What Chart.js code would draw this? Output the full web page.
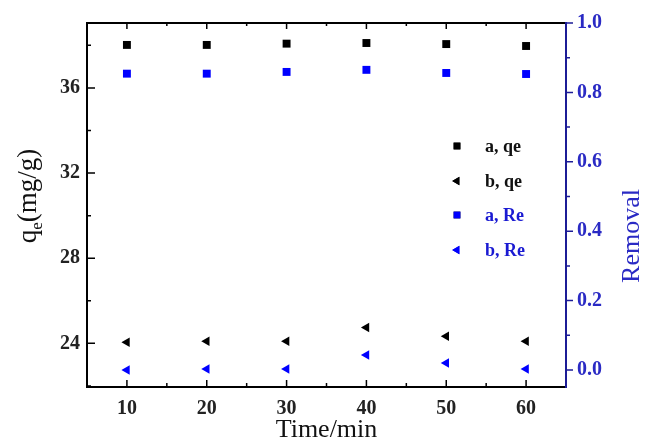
<!DOCTYPE html>
<html lang="en">
<head>
    <meta charset="UTF-8">
    <title>qe and removal vs time</title>
    <style>
        body {
            margin: 0;
            background: #fff;
        }
        #wrap {
            width: 645px;
            height: 441px;
        }
    </style>
    <script src="https://cdn.jsdelivr.net/npm/chart.js"></script>
</head>
<body>
    <div id="wrap"><canvas id="chart" width="645" height="441"></canvas></div>

    <script>
        // data
        const times = [10, 20, 30, 40, 50, 60];
        const aQe = [38.02, 38.02, 38.08, 38.11, 38.06, 37.97];
        const bQe = [24.05, 24.1, 24.1, 24.75, 24.33, 24.1];
        const aRe = [0.854, 0.854, 0.859, 0.865, 0.856, 0.853];
        const bRe = [0.0, 0.003, 0.003, 0.043, 0.02, 0.003];

        const xTicks = [10, 20, 30, 40, 50, 60];
        const xMinor = [15, 25, 35, 45, 55];
        const leftTicks = [24, 28, 32, 36];
        const leftMinor = [22, 26, 30, 34, 38];
        const rightTicks = [0, 0.2, 0.4, 0.6, 0.8, 1.0];
        const rightMinor = [0.1, 0.3, 0.5, 0.7, 0.9];

        const legendNames = ['a, qe', 'b, qe', 'a, Re', 'b, Re'];

        const SERIF = '"Liberation Serif", "Times New Roman", serif';
        const BLUE = '#0000ff';
        const AXIS_BLUE = '#1c1c96';
        const LABEL_BLUE = '#2a2ac4';

        function pts(ys) {
            return times.map((t, i) => ({ x: t, y: ys[i] }));
        }

        const sets = [
            { label: legendNames[0], data: pts(aQe), yAxisID: 'y', pointStyle: 'rect', pointRadius: 5.6, backgroundColor: '#000', borderColor: '#000', pointRotation: 0 },
            { label: legendNames[1], data: pts(bQe), yAxisID: 'y', pointStyle: 'triangle', pointRadius: 5.5, backgroundColor: '#000', borderColor: '#000', pointRotation: -90 },
            { label: legendNames[2], data: pts(aRe), yAxisID: 'y1', pointStyle: 'rect', pointRadius: 5.6, backgroundColor: BLUE, borderColor: BLUE, pointRotation: 0 },
            { label: legendNames[3], data: pts(bRe), yAxisID: 'y1', pointStyle: 'triangle', pointRadius: 5.5, backgroundColor: BLUE, borderColor: BLUE, pointRotation: -90 }
        ];
        sets.forEach(s => { s.borderWidth = 0; s.showLine = false; });

        // frame, inner ticks, titles and the in-plot legend
        const decor = {
            id: 'decor',
            afterDraw(chart) {
                const ctx = chart.ctx;
                const a = chart.chartArea;
                const sx = chart.scales.x, sy = chart.scales.y, sr = chart.scales.y1;
                ctx.save();

                // frame
                ctx.lineWidth = 2;
                ctx.strokeStyle = '#000';
                ctx.beginPath();
                ctx.moveTo(a.right, a.top);
                ctx.lineTo(a.left, a.top);
                ctx.lineTo(a.left, a.bottom);
                ctx.lineTo(a.right, a.bottom);
                ctx.stroke();
                ctx.strokeStyle = AXIS_BLUE;
                ctx.beginPath();
                ctx.moveTo(a.right, a.top - 1);
                ctx.lineTo(a.right, a.bottom + 1);
                ctx.stroke();

                // x ticks (bottom and top, pointing in)
                ctx.strokeStyle = '#000';
                ctx.lineWidth = 1.5;
                ctx.beginPath();
                xTicks.forEach(v => {
                    const px = sx.getPixelForValue(v);
                    ctx.moveTo(px, a.bottom); ctx.lineTo(px, a.bottom - 7);
                    ctx.moveTo(px, a.top); ctx.lineTo(px, a.top + 6);
                });
                xMinor.forEach(v => {
                    const px = sx.getPixelForValue(v);
                    ctx.moveTo(px, a.bottom); ctx.lineTo(px, a.bottom - 4);
                    ctx.moveTo(px, a.top); ctx.lineTo(px, a.top + 3);
                });
                // left ticks
                leftTicks.forEach(v => {
                    const py = sy.getPixelForValue(v);
                    ctx.moveTo(a.left, py); ctx.lineTo(a.left + 8, py);
                });
                leftMinor.forEach(v => {
                    const py = sy.getPixelForValue(v);
                    ctx.moveTo(a.left, py); ctx.lineTo(a.left + 4, py);
                });
                ctx.stroke();

                // right ticks (outward, blue)
                ctx.strokeStyle = AXIS_BLUE;
                ctx.beginPath();
                rightTicks.forEach(v => {
                    const py = sr.getPixelForValue(v);
                    ctx.moveTo(a.right, py); ctx.lineTo(a.right + 7, py);
                });
                rightMinor.forEach(v => {
                    const py = sr.getPixelForValue(v);
                    ctx.moveTo(a.right, py); ctx.lineTo(a.right + 4, py);
                });
                ctx.stroke();

                // axis titles
                ctx.fillStyle = '#111';
                ctx.textBaseline = 'alphabetic';
                ctx.font = '26px ' + SERIF;
                ctx.textAlign = 'center';
                ctx.fillText('Time/min', (a.left + a.right) / 2, 437);

                // q_e(mg/g), rotated, with subscript e
                ctx.save();
                ctx.translate(36, 196);
                ctx.rotate(-Math.PI / 2);
                const big = '27px ' + SERIF, small = '17px ' + SERIF;
                ctx.font = big;
                const wq = ctx.measureText('q').width;
                const wr = ctx.measureText('(mg/g)').width;
                ctx.font = small;
                const we = ctx.measureText('e').width;
                let x0 = -(wq + we + wr) / 2;
                ctx.textAlign = 'left';
                ctx.font = big;
                ctx.fillText('q', x0, 0);
                ctx.font = small;
                ctx.fillText('e', x0 + wq, 6);
                ctx.font = big;
                ctx.fillText('(mg/g)', x0 + wq + we, 0);
                ctx.restore();

                ctx.save();
                ctx.translate(639, 236);
                ctx.rotate(-Math.PI / 2);
                ctx.textAlign = 'center';
                ctx.fillStyle = LABEL_BLUE;
                ctx.font = '26px ' + SERIF;
                ctx.fillText('Removal', 0, 0);
                ctx.restore();

                // legend
                const rowY = [146, 181, 215, 250];
                ctx.font = 'bold 18px ' + SERIF;
                ctx.textAlign = 'left';
                ctx.textBaseline = 'middle';
                chart.data.datasets.forEach((ds, i) => {
                    Chart.helpers.drawPoint(ctx, {
                        pointStyle: ds.pointStyle,
                        radius: 4.8,
                        rotation: ds.pointRotation,
                        borderWidth: 0
                    }, 457, rowY[i]);
                    ctx.fillStyle = ds.backgroundColor;
                    ctx.fill();
                    ctx.fillStyle = ds.backgroundColor === BLUE ? '#1a1ad2' : '#111';
                    ctx.fillText(legendNames[i], 485, rowY[i] + 1);
                });

                ctx.restore();
            }
        };

        const tickFont = { family: SERIF, size: 20, weight: 'bold' };

        new Chart(document.getElementById('chart'), {
            type: 'scatter',
            data: { datasets: sets },
            options: {
                responsive: false,
                animation: false,
                layout: { padding: { top: 22, left: 0, right: 0, bottom: 0 } },
                plugins: {
                    legend: { display: false },
                    tooltip: { enabled: false }
                },
                scales: {
                    x: {
                        type: 'linear',
                        position: 'bottom',
                        min: 5,
                        max: 65,
                        grid: { display: false, drawTicks: false },
                        border: { display: false },
                        afterBuildTicks: s => { s.ticks = xTicks.map(v => ({ value: v })); },
                        afterFit: s => { s.height = 54; },
                        ticks: { font: tickFont, color: '#222', padding: 10, maxRotation: 0 }
                    },
                    y: {
                        type: 'linear',
                        position: 'left',
                        min: 21.95,
                        max: 39.05,
                        grid: { display: false, drawTicks: false },
                        border: { display: false },
                        afterBuildTicks: s => { s.ticks = leftTicks.map(v => ({ value: v })); },
                        afterFit: s => { s.width = 87; },
                        ticks: { font: tickFont, color: '#222', padding: 7 }
                    },
                    y1: {
                        type: 'linear',
                        position: 'right',
                        min: -0.049,
                        max: 1.0,
                        grid: { display: false, drawTicks: false },
                        border: { display: false },
                        afterBuildTicks: s => { s.ticks = rightTicks.map(v => ({ value: v })); },
                        afterFit: s => { s.width = 79; },
                        ticks: {
                            font: tickFont,
                            color: LABEL_BLUE,
                            padding: 11,
                            callback: v => v.toFixed(1)
                        }
                    }
                }
            },
            plugins: [decor]
        });
    </script>
</body>
</html>
